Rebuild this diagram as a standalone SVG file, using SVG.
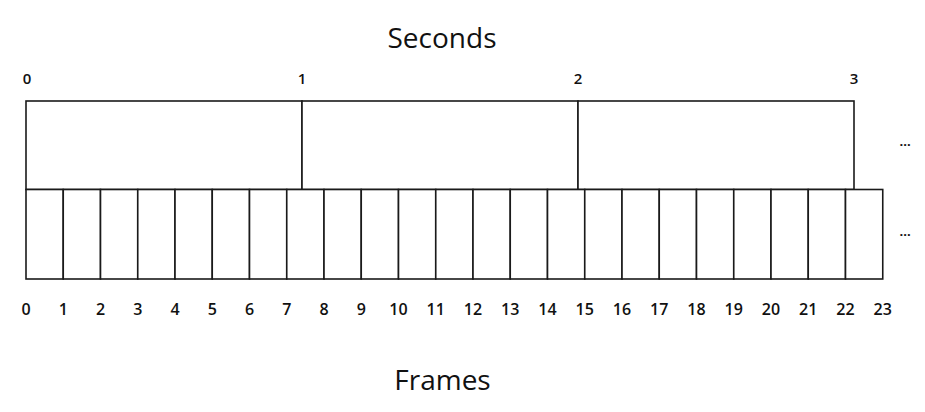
<svg xmlns="http://www.w3.org/2000/svg" width="925" height="412" viewBox="0 0 925 412">
<style>
text{font-family:"Open Sans","Noto Sans",sans-serif;fill:#111}
.t{font-size:28px;text-anchor:middle}
.n{font-size:16px;text-anchor:middle;font-weight:600}
.s{font-size:15px;text-anchor:middle;font-weight:600}
.box{fill:#fff;stroke:#1a1a1a;stroke-width:1.6}
.e{font-size:13px;font-weight:700}
</style>
<rect width="925" height="412" fill="#fff"/>
<text class="t" x="442" y="48">Seconds</text>
<text class="t" x="442.5" y="390">Frames</text>
<g id="seconds">
<rect id="sec0" class="box" x="26" y="101" width="276" height="88.5"/>
<rect id="sec1" class="box" x="302" y="101" width="276" height="88.5"/>
<rect id="sec2" class="box" x="578" y="101" width="276" height="88.5"/>
<text class="s" x="27" y="84">0</text>
<text class="s" x="302" y="84">1</text>
<text class="s" x="578" y="84">2</text>
<text class="s" x="854" y="84">3</text>
<text class="e" x="899.5" y="146">...</text>
</g>
<g id="frames">
<rect class="box" x="26" y="189.5" width="37.25" height="89.5"/>
<rect class="box" x="63.25" y="189.5" width="37.25" height="89.5"/>
<rect class="box" x="100.5" y="189.5" width="37.25" height="89.5"/>
<rect class="box" x="137.75" y="189.5" width="37.25" height="89.5"/>
<rect class="box" x="175" y="189.5" width="37.25" height="89.5"/>
<rect class="box" x="212.25" y="189.5" width="37.25" height="89.5"/>
<rect class="box" x="249.5" y="189.5" width="37.25" height="89.5"/>
<rect class="box" x="286.75" y="189.5" width="37.25" height="89.5"/>
<rect class="box" x="324" y="189.5" width="37.25" height="89.5"/>
<rect class="box" x="361.25" y="189.5" width="37.25" height="89.5"/>
<rect class="box" x="398.5" y="189.5" width="37.25" height="89.5"/>
<rect class="box" x="435.75" y="189.5" width="37.25" height="89.5"/>
<rect class="box" x="473" y="189.5" width="37.25" height="89.5"/>
<rect class="box" x="510.25" y="189.5" width="37.25" height="89.5"/>
<rect class="box" x="547.5" y="189.5" width="37.25" height="89.5"/>
<rect class="box" x="584.75" y="189.5" width="37.25" height="89.5"/>
<rect class="box" x="622" y="189.5" width="37.25" height="89.5"/>
<rect class="box" x="659.25" y="189.5" width="37.25" height="89.5"/>
<rect class="box" x="696.5" y="189.5" width="37.25" height="89.5"/>
<rect class="box" x="733.75" y="189.5" width="37.25" height="89.5"/>
<rect class="box" x="771" y="189.5" width="37.25" height="89.5"/>
<rect class="box" x="808.25" y="189.5" width="37.25" height="89.5"/>
<rect class="box" x="845.5" y="189.5" width="37.25" height="89.5"/>
<text class="n" x="26" y="315">0</text>
<text class="n" x="63.25" y="315">1</text>
<text class="n" x="100.5" y="315">2</text>
<text class="n" x="137.75" y="315">3</text>
<text class="n" x="175" y="315">4</text>
<text class="n" x="212.25" y="315">5</text>
<text class="n" x="249.5" y="315">6</text>
<text class="n" x="286.75" y="315">7</text>
<text class="n" x="324" y="315">8</text>
<text class="n" x="361.25" y="315">9</text>
<text class="n" x="398.5" y="315">10</text>
<text class="n" x="435.75" y="315">11</text>
<text class="n" x="473" y="315">12</text>
<text class="n" x="510.25" y="315">13</text>
<text class="n" x="547.5" y="315">14</text>
<text class="n" x="584.75" y="315">15</text>
<text class="n" x="622" y="315">16</text>
<text class="n" x="659.25" y="315">17</text>
<text class="n" x="696.5" y="315">18</text>
<text class="n" x="733.75" y="315">19</text>
<text class="n" x="771" y="315">20</text>
<text class="n" x="808.25" y="315">21</text>
<text class="n" x="845.5" y="315">22</text>
<text class="n" x="882.75" y="315">23</text>
<text class="e" x="899.5" y="236">...</text>
</g>
<g id="connectors"></g>
</svg>
